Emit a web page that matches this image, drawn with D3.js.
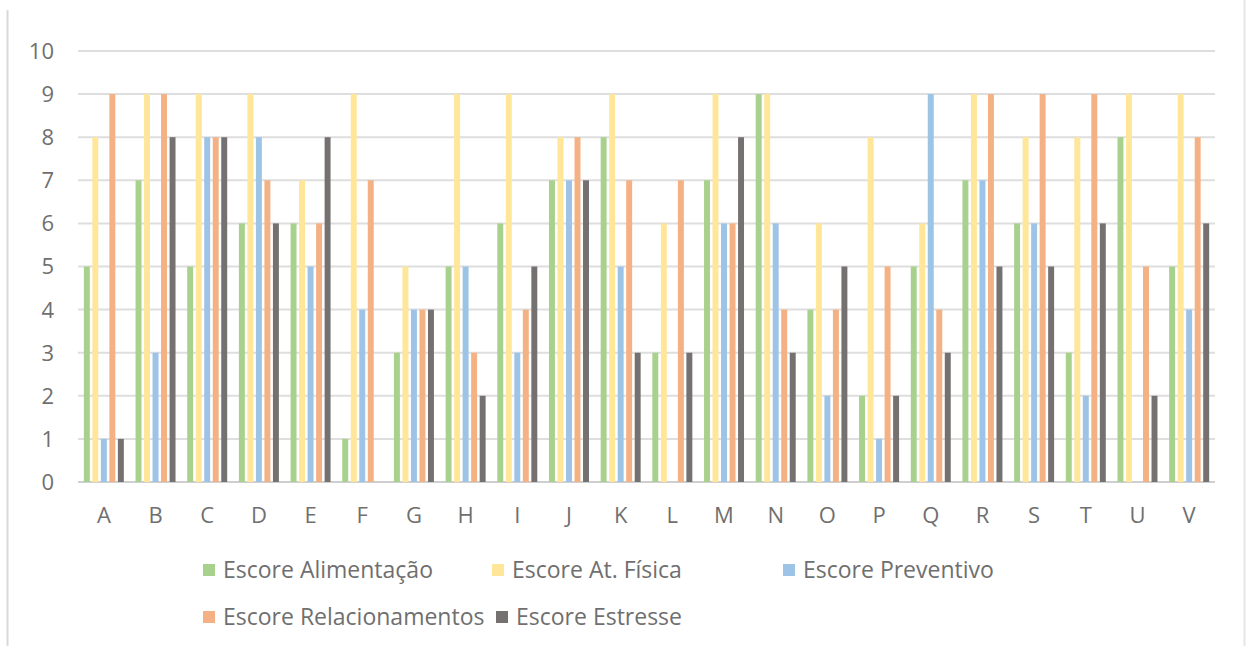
<!DOCTYPE html>
<html>
<head>
<meta charset="utf-8">
<script src="https://cdn.jsdelivr.net/npm/d3@7"></script>
<style>
  body { margin: 0; background: #fff; }
  svg { display: block; font-family: "Open Sans", Lato, sans-serif; }
</style>
</head>
<body>
<div id="chart"></div>
<script>
let width = 1246, height = 646;

let categories = ['A','B','C','D','E','F','G','H','I','J','K','L','M','N','O','P','Q','R','S','T','U','V'];
let seriesNames = ['Escore Alimentação', 'Escore At. Física', 'Escore Preventivo', 'Escore Relacionamentos', 'Escore Estresse'];
let colorScheme = ['#a9d18e', '#ffe699', '#9dc3e6', '#f4b183', '#767171'];

let alimentacao     = [5,7,5,6,6,1,3,5,6,7,8,3,7,9,4,2,5,7,6,3,8,5];
let atFisica        = [8,9,9,9,7,9,5,9,9,8,9,6,9,9,6,8,6,9,8,8,9,9];
let preventivo      = [1,3,8,8,5,4,4,5,3,7,5,0,6,6,2,1,9,7,6,2,0,4];
let relacionamentos = [9,9,8,7,6,7,4,3,4,8,7,7,6,4,4,5,4,9,9,9,5,8];
let estresse        = [1,8,8,6,8,0,4,2,5,7,3,3,8,3,5,2,3,5,5,6,2,6];
let yTicks = [0,1,2,3,4,5,6,7,8,9,10];

let seriesValues = [alimentacao, atFisica, preventivo, relacionamentos, estresse];

let margin = {left: 78, right: 31, top: 51, bottom: 164};

let svg = d3.select('#chart').append('svg')
  .attr('width', width).attr('height', height);

// thin frame lines left and right, like the cropped screenshot
svg.append('line').attr('x1', 7.5).attr('x2', 7.5).attr('y1', 10).attr('y2', height)
  .style('stroke', '#d9d9d9').style('stroke-width', 2);
svg.append('line').attr('x1', width - 1.5).attr('x2', width - 1.5).attr('y1', 0).attr('y2', height)
  .style('stroke', '#e6e6e6').style('stroke-width', 2);

let x = d3.scaleBand()
  .domain(categories)
  .range([margin.left, width - margin.right]);

let xInner = d3.scaleBand()
  .domain(d3.range(seriesNames.length))
  .range([0, 40])
  .paddingInner(0.3);

let y = d3.scaleLinear()
  .domain([0, 10])
  .range([height - margin.bottom, margin.top]);

// gridlines
svg.append('g')
  .selectAll('line')
  .data(yTicks)
  .enter().append('line')
  .attr('x1', margin.left).attr('x2', width - margin.right)
  .attr('y1', d => y(d)).attr('y2', d => y(d))
  .style('stroke', d => d == 0 ? '#cfcfcf' : '#dedede')
  .style('stroke-width', 2);

// y labels
svg.append('g')
  .selectAll('text')
  .data(yTicks)
  .enter().append('text')
  .attr('x', 54).attr('y', d => y(d))
  .attr('dy', '0.36em')
  .attr('text-anchor', 'end')
  .style('font-size', '22px')
  .style('fill', '#6f6f6f')
  .text(d => d);

// x labels
svg.append('g')
  .selectAll('text')
  .data(categories)
  .enter().append('text')
  .attr('x', d => x(d) + x.bandwidth() / 2)
  .attr('y', 515)
  .attr('dy', '0.36em')
  .attr('text-anchor', 'middle')
  .style('font-size', '22px')
  .style('fill', '#6f6f6f')
  .text(d => d);

// bars
let groups = svg.append('g')
  .selectAll('g')
  .data(categories)
  .enter().append('g')
  .attr('transform', d => 'translate(' + (x(d) + (x.bandwidth() - 40) / 2) + ',0)');

groups.selectAll('rect')
  .data((d, i) => seriesValues.map((vals, s) => ({s: s, v: vals[i]})))
  .enter().append('rect')
  .attr('x', d => xInner(d.s))
  .attr('width', xInner.bandwidth())
  .attr('y', d => y(d.v))
  .attr('height', d => y(0) - y(d.v))
  .style('fill', d => colorScheme[d.s]);

// legend
let legendPos = [[203, 570], [492, 570], [783, 570], [203, 617], [496, 617]];
let legend = svg.append('g')
  .selectAll('g')
  .data(seriesNames)
  .enter().append('g')
  .attr('transform', (d, i) => 'translate(' + legendPos[i][0] + ',' + legendPos[i][1] + ')');

legend.append('rect')
  .attr('x', 0).attr('y', -6)
  .attr('width', 12).attr('height', 12)
  .style('fill', (d, i) => colorScheme[i]);

legend.append('text')
  .attr('x', 20).attr('y', 0)
  .attr('dy', '0.36em')
  .style('font-size', '23px')
  .style('fill', '#6f6f6f')
  .text(d => d);
</script>
</body>
</html>
